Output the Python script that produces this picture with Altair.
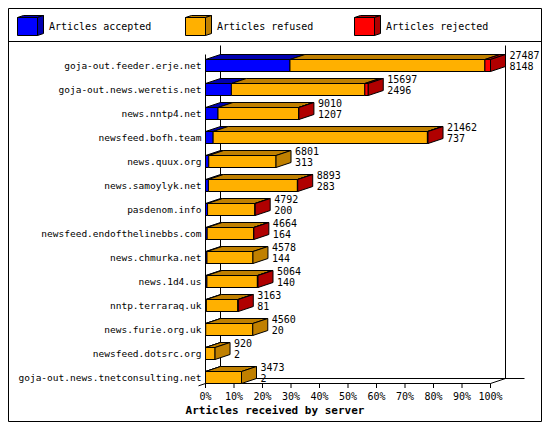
import altair as alt
import pandas as pd

# ---------------- data ----------------
servers = [
    "goja-out.feeder.erje.net",
    "goja-out.news.weretis.net",
    "news.nntp4.net",
    "newsfeed.bofh.team",
    "news.quux.org",
    "news.samoylyk.net",
    "pasdenom.info",
    "newsfeed.endofthelinebbs.com",
    "news.chmurka.net",
    "news.1d4.us",
    "nntp.terraraq.uk",
    "news.furie.org.uk",
    "newsfeed.dotsrc.org",
    "goja-out.news.tnetconsulting.net",
]
offered = [27487, 15697, 9010, 21462, 6801, 8893, 4792, 4664, 4578, 5064, 3163, 4560, 920, 3473]
accepted = [8148, 2496, 1207, 737, 313, 283, 200, 164, 144, 140, 81, 20, 2, 2]
refused = [18799, 12871, 7763, 20665, 6488, 8580, 4567, 4470, 4434, 4864, 3042, 4540, 918, 3471]
rejected = [540, 330, 40, 60, 0, 30, 25, 30, 0, 60, 40, 0, 0, 0]

tick_values = [0, 10, 20, 30, 40, 50, 60, 70, 80, 90, 100]
tick_labels = ["0%", "10%", "20%", "30%", "40%", "50%", "60%", "70%", "80%", "90%", "100%"]
legend_labels = ["Articles accepted", "Articles refused", "Articles rejected"]
front_colors = ["#0000ff", "#ffb000", "#ff0000"]
shade_colors = ["#0000b0", "#c08000", "#b00000"]
x_title = "Articles received by server"

FONT = "DejaVu Sans Mono"

# ---------------- layout (pixels) ----------------
W, H = 534, 414
X0, X100 = 197.5, 482.5
R0, S = 57.5, 24.0
DX, DY, HH = 15.0, 5.0, 6.0
kx = (X100 - X0) / 100.0
dxu = DX / kx
dyu = DY / S
hhu = HH / S
n = len(servers)
floor_y = R0 + (n - 1) * S + HH
wall_top = 37.5

xs = alt.Scale(domain=[0, 100], range=[X0, X100], nice=False, zero=False)
ys = alt.Scale(domain=[0, n - 1], range=[R0, R0 + (n - 1) * S], nice=False, zero=False)

# ---------------- tables built from arrays ----------------
maxv = max(offered)
fronts, tops, sides, nums = [], [], [], []
for i in range(n):
    segs = [accepted[i], refused[i], rejected[i]]
    start = 0.0
    last = None
    for k, v in enumerate(segs):
        if v <= 0:
            continue
        a = start
        b = start + v / maxv * 100.0
        fronts.append(dict(a=a, b=b, y0=i - hhu, y1=i + hhu, c=front_colors[k]))
        fid = f"{i}_{k}"
        tops.append(dict(fid=fid, y=i - hhu, x=a, x2=b, c=shade_colors[k]))
        tops.append(dict(fid=fid, y=i - hhu - dyu, x=a + dxu, x2=b + dxu, c=shade_colors[k]))
        last = (k, b)
        start = b
    k, b = last
    fid = f"s{i}"
    sides.append(dict(fid=fid, x=b, y=i - hhu, y2=i + hhu, c=shade_colors[k]))
    sides.append(dict(fid=fid, x=b + dxu, y=i - hhu - dyu, y2=i + hhu - dyu, c=shade_colors[k]))
    nums.append(dict(r=i, end=offered[i] / maxv * 100.0, off=str(offered[i]), acc=str(accepted[i])))

df_front = pd.DataFrame(fronts)
df_top = pd.DataFrame(tops)
df_side = pd.DataFrame(sides)
df_num = pd.DataFrame(nums)
df_names = pd.DataFrame(dict(r=list(range(n)), name=servers))
df_ticks = pd.DataFrame(dict(t=tick_values, lab=tick_labels))
one = pd.DataFrame(dict(z=[0]))

layers = []


def line(x1, y1, x2, y2):
    return alt.Chart(one).mark_rule(color="black", strokeWidth=1).encode(
        x=alt.value(x1), y=alt.value(y1), x2=alt.value(x2), y2=alt.value(y2)
    )


# outer border and legend separator
layers += [
    line(0.5, 0.5, W - 0.5, 0.5),
    line(0.5, H - 0.5, W - 0.5, H - 0.5),
    line(0.5, 0.5, 0.5, H - 0.5),
    line(W - 0.5, 0.5, W - 0.5, H - 0.5),
    line(0.5, 33.5, W - 0.5, 33.5),
]

# 3D frame
layers += [
    line(X0 + DX, wall_top, X0 + DX, floor_y - DY),            # back-left wall
    line(X100 + DX, wall_top, X100 + DX, floor_y - DY),        # back-right wall
    line(X0 + DX, floor_y - DY, X100 + DX + 19, floor_y - DY),  # back floor
    line(X0 - 7, floor_y + 7 / 3.0, X0 + DX, floor_y - DY),    # left floor diagonal
    line(X100, floor_y, X100 + DX, floor_y - DY),              # right floor diagonal
    line(X0, R0 - HH - DY, X0, floor_y),                       # front-left axis
    line(X0, floor_y, X100, floor_y),                          # front floor axis
]

# ticks and tick labels
layers.append(
    alt.Chart(df_ticks).mark_rule(color="black", strokeWidth=1).encode(
        x=alt.X("t:Q", scale=xs, axis=None), y=alt.value(floor_y), y2=alt.value(floor_y + 4.5)
    )
)
layers.append(
    alt.Chart(df_ticks).mark_text(font=FONT, fontSize=10, align="center", baseline="middle", color="black").encode(
        x=alt.X("t:Q", scale=xs, axis=None), y=alt.value(floor_y + 13), text="lab:N"
    )
)

# bars: front faces
layers.append(
    alt.Chart(df_front).mark_rect(stroke="black", strokeWidth=1, opacity=1).encode(
        x=alt.X("a:Q", scale=xs, axis=None),
        x2="b:Q",
        y=alt.Y("y0:Q", scale=ys, axis=None),
        y2="y1:Q",
        fill=alt.Fill("c:N", scale=None),
    )
)
# bars: top faces
layers.append(
    alt.Chart(df_top).mark_area(orient="horizontal", stroke="black", strokeWidth=1, opacity=1).encode(
        y=alt.Y("y:Q", scale=ys, axis=None),
        x=alt.X("x:Q", scale=xs, axis=None, stack=False),
        x2="x2:Q",
        detail="fid:N",
        fill=alt.Fill("c:N", scale=None),
    )
)
# bars: end side faces
layers.append(
    alt.Chart(df_side).mark_area(orient="vertical", stroke="black", strokeWidth=1, opacity=1).encode(
        x=alt.X("x:Q", scale=xs, axis=None),
        y=alt.Y("y:Q", scale=ys, axis=None, stack=False),
        y2="y2:Q",
        detail="fid:N",
        fill=alt.Fill("c:N", scale=None),
    )
)

# value labels
layers.append(
    alt.Chart(df_num).mark_text(font=FONT, fontSize=10, align="left", baseline="middle", dx=DX + 4, dy=-9.5, color="black").encode(
        x=alt.X("end:Q", scale=xs, axis=None), y=alt.Y("r:Q", scale=ys, axis=None), text="off:N"
    )
)
layers.append(
    alt.Chart(df_num).mark_text(font=FONT, fontSize=10, align="left", baseline="middle", dx=DX + 4, dy=1.5, color="black").encode(
        x=alt.X("end:Q", scale=xs, axis=None), y=alt.Y("r:Q", scale=ys, axis=None), text="acc:N"
    )
)

# server names
layers.append(
    alt.Chart(df_names).mark_text(font=FONT, fontSize=9.5, align="right", baseline="middle", color="black").encode(
        x=alt.value(X0 - 4), y=alt.Y("r:Q", scale=ys, axis=None), text="name:N"
    )
)

# axis title
layers.append(
    alt.Chart(one).mark_text(font=FONT, fontSize=11, fontWeight="bold", align="center", baseline="middle", color="black", text=x_title).encode(
        x=alt.value(W / 2), y=alt.value(floor_y + 27)
    )
)

# legend cubes (custom symbol paths drawn at 1 px per unit with size=4)
cw, ch, cdx, cdy = 20, 18, 6, 2
front_path = f"M0,0 L{cw},0 L{cw},{ch} L0,{ch} Z"
top_path = f"M0,0 L{cw},0 L{cw + cdx},{-cdy} L{cdx},{-cdy} Z"
side_path = f"M{cw},0 L{cw + cdx},{-cdy} L{cw + cdx},{ch - cdy} L{cw},{ch} Z"
cube_x = [9.5, 177.5, 346.5]
text_x = [41, 209, 378]
cube_y = 9.5
for k in range(3):
    for path, col in ((front_path, front_colors[k]), (top_path, shade_colors[k]), (side_path, shade_colors[k])):
        layers.append(
            alt.Chart(one).mark_point(shape=path, size=4, filled=True, fill=col, stroke="black", strokeWidth=1, opacity=1).encode(
                x=alt.value(cube_x[k]), y=alt.value(cube_y)
            )
        )
    layers.append(
        alt.Chart(one).mark_text(font=FONT, fontSize=10, align="left", baseline="middle", color="black", text=legend_labels[k]).encode(
            x=alt.value(text_x[k]), y=alt.value(18.5)
        )
    )

chart = alt.layer(*layers).properties(
    width=W, height=H, padding=0, autosize=alt.AutoSizeParams(type="none"), background="white"
).configure_view(strokeWidth=0)

chart.save("out.html", embed_options={"renderer": "svg", "actions": False})
